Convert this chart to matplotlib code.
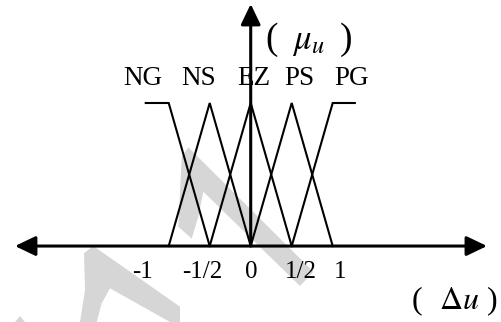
import matplotlib
matplotlib.use("Agg")
import matplotlib.pyplot as plt
from matplotlib.patches import Polygon, FancyArrowPatch, ArrowStyle

plt.rcParams["font.family"] = ["Liberation Serif", "DejaVu Serif"]
plt.rcParams["mathtext.fontset"] = "stix"

# Fuzzy sets for the output change: breakpoints (x) and memberships (y)
set_names = ["NG", "NS", "EZ", "PS", "PG"]
set_x = [
    [-1.28, -1.0, -0.5],
    [-1.0, -0.5, 0.0],
    [-0.5, 0.0, 0.5],
    [0.0, 0.5, 1.0],
    [0.5, 1.0, 1.27],
]
set_y = [
    [1, 1, 0],
    [0, 1, 0],
    [0, 1, 0],
    [0, 1, 0],
    [0, 1, 1],
]
tick_labels = ["-1", "-1/2", "0", "1/2", "1"]

W, H, DPI = 501, 322, 100
fig = plt.figure(figsize=(W / DPI, H / DPI), dpi=DPI)
fig.patch.set_facecolor("white")
ax = fig.add_axes([0, 0, 1, 1])
ax.set_xlim(-3.057, 3.052)
ax.set_ylim(-0.531, 1.720)
ax.axis("off")

# light grey background stamp (figure pixel coordinates)
stamp = [
    [(181.7, 156.7), (188.3, 147.3), (313.3, 271.7), (300, 286), (203.3, 191.7),
     (198.3, 216.7), (191.7, 238.7), (178.3, 226.7)],
    [(84, 253.3), (93.3, 246), (180, 306.7), (180, 322), (170, 322), (110, 288.3),
     (101.7, 303.3), (96.7, 322), (80, 322), (85, 290)],
    [(15, 322), (20, 316), (25, 322)],
]
for pts in stamp:
    ax.add_patch(Polygon([(x / W, 1 - y / H) for x, y in pts], closed=True,
                         transform=fig.transFigure, facecolor="#d6d6d6",
                         edgecolor="none", zorder=0))

# membership functions
for xs, ys in zip(set_x, set_y):
    ax.plot(xs, ys, color="black", lw=1.5, solid_joinstyle="miter", zorder=2)

# axes with arrow heads
style_h = ArrowStyle("<|-|>", head_length=1.25, head_width=0.6)
ax.add_patch(FancyArrowPatch((-2.874, 0), (2.881, 0), arrowstyle=style_h,
                             mutation_scale=10, color="black", lw=2.2,
                             shrinkA=0, shrinkB=0, zorder=3))
style_v = ArrowStyle("-|>", head_length=1.25, head_width=0.6)
ax.add_patch(FancyArrowPatch((0, 0), (0, 1.692), arrowstyle=style_v,
                             mutation_scale=10, color="black", lw=2.2,
                             shrinkA=0, shrinkB=0, zorder=3))

# set names above the peaks
name_x = [-1.32, -0.63, 0.04, 0.59, 1.23]
for nm, nx in zip(set_names, name_x):
    ax.text(nx, 1.168, nm, ha="center", va="center", fontsize=19.5, zorder=4)

# tick labels under the horizontal axis
tick_x = [-1.32, -0.585, 0.01, 0.61, 1.09]
for lab, tx in zip(tick_labels, tick_x):
    ax.text(tx, -0.18, lab, ha="center", va="center", fontsize=18, zorder=4)

# axis titles
ax.text(0.26, 1.44, "(", ha="center", va="center", fontsize=27)
ax.text(1.16, 1.44, ")", ha="center", va="center", fontsize=27)
ax.text(0.70, 1.43, r"$\mu_u$", ha="center", va="center", fontsize=25)

ax.text(2.03, -0.385, "(", ha="center", va="center", fontsize=23)
ax.text(2.94, -0.385, ")", ha="center", va="center", fontsize=23)
ax.text(2.54, -0.385, r"$\Delta u$", ha="center", va="center", fontsize=23)

fig.savefig("out.png", dpi=DPI, facecolor="white")
